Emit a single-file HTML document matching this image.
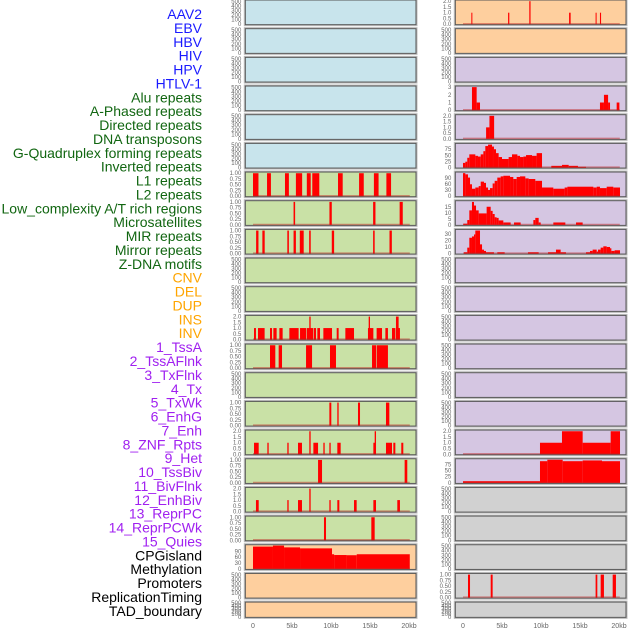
<!DOCTYPE html>
<html><head><meta charset="utf-8"><style>
html,body{margin:0;padding:0;background:#fff;width:630px;height:630px;overflow:hidden}
svg{display:block}
text{font-family:"Liberation Sans",sans-serif}
</style></head>
<body>
<svg id="chart" width="630" height="630" viewBox="0 0 630 630" xmlns="http://www.w3.org/2000/svg">
<g id="labels"></g>
<g id="panels"></g>
<g id="xaxes"></g>
</svg>
<script>
// ---------- data ----------
const trackLabels = ["AAV2","EBV","HBV","HIV","HPV","HTLV-1","Alu repeats","A-Phased repeats","Directed repeats","DNA transposons","G-Quadruplex forming repeats","Inverted repeats","L1 repeats","L2 repeats","Low_complexity A/T rich regions","Microsatellites","MIR repeats","Mirror repeats","Z-DNA motifs","CNV","DEL","DUP","INS","INV","1_TssA","2_TssAFlnk","3_TxFlnk","4_Tx","5_TxWk","6_EnhG","7_Enh","8_ZNF_Rpts","9_Het","10_TssBiv","11_BivFlnk","12_EnhBiv","13_ReprPC","14_ReprPCWk","15_Quies","CPGisland","Methylation","Promoters","ReplicationTiming","TAD_boundary"];
const labelGroups = ["v","v","v","v","v","v","r","r","r","r","r","r","r","r","r","r","r","r","r","s","s","s","s","s","c","c","c","c","c","c","c","c","c","c","c","c","c","c","c","k","k","k","k","k"];
const xTickValues = [0,5,10,15,20];
const xTickLabels = ["0","5kb","10kb","15kb","20kb"];
const ticksEmpty = [0,100,200,300,400,500];
const ticksOne = [0,0.25,0.5,0.75,1];
const ticksTwo = [0,0.5,1,1.5,2];
const ticksThree = [0,1,2,3];
const ticksG4 = [0,25,50,75];
const ticksL1 = [0,30,60,90];
const ticksL2 = [0,5,10,15];
const ticksLow = [0,10,20,30];

// intervals: [startKb, endKb, value]
const left6 = [[0,0.7,1],[1.8,2.3,1],[4.1,4.6,1],[5.5,6.3,1],[6.9,7.4,1],[7.6,8.5,1],[10.9,11.5,1],[13.6,14.2,1],[15.5,16.1,1],[17.1,17.7,1]];
const left7 = [[5.2,5.4,1],[9.8,10.1,1],[15.4,15.7,1],[18.8,19.2,1]];
const left8 = [[0.4,0.7,1],[1.2,1.5,1],[4.4,4.6,1],[5.2,5.5,1],[6.0,6.5,1],[7.2,7.4,1],[10.1,10.4,1],[15.4,15.6,1],[17.5,17.8,1]];
const left11 = [[0.13,0.38,1],[0.64,1.49,1],[2.18,2.44,1],[2.61,3.03,1],[3.38,3.8,1],[4.66,5.85,1],[6.03,6.8,1],[6.88,7.74,1],[7.22,7.39,2],[7.82,8.08,1],[8.25,8.59,1],[9.02,10.13,1],[10.73,10.98,1],[11.84,12.95,1],[14.74,15.43,1],[14.83,15.0,2],[15.85,16.54,1],[16.97,17.3,1],[17.82,18.25,1],[18.33,18.84,1],[18.33,18.67,2]];
const left12 = [[2.18,2.86,1],[3.29,3.72,1],[6.8,7.57,1],[9.87,10.64,1],[15.26,15.77,1],[15.85,17.3,1]];
const left14 = [[9.79,10.04,1],[10.81,10.98,1],[13.46,13.72,1],[17.05,17.48,1]];
const left15 = [[0.13,0.73,1],[1.84,2.01,1],[4.4,4.57,1],[5.77,6.28,1],[7.22,7.39,2],[7.74,8.34,1],[9.02,9.19,1],[9.79,9.96,1],[10.81,11.24,1],[15.43,15.77,1],[15.6,15.77,2],[17.05,17.82,1],[17.99,18.25,1],[19.01,19.27,1]];
const left16 = [[8.34,8.85,1],[19.44,19.78,1]];
const left17 = [[0.38,0.73,1],[4.4,4.57,1],[5.77,6.28,1],[7.22,7.39,2],[9.79,9.96,1],[10.81,11.07,1],[12.95,13.29,1],[15.43,15.77,1],[18.5,18.84,1]];
const left18 = [[9.1,9.36,1],[15.17,15.6,1]];
const left19 = [[0,2.56,114],[2.56,3.98,119],[3.98,6.03,110],[6.03,10.13,105],[10.13,10.4,75],[10.4,12.0,71],[12.0,13.3,70],[13.3,20.1,75]];

const right0 = [[1.07,1.2,1],[5.78,5.94,1],[8.5,8.66,2],[13.6,13.8,1],[17.0,17.1,1],[17.56,17.7,1]];
const right3 = [[1.15,1.75,3],[1.75,2.18,1],[17.56,18.07,1],[18.07,18.6,2],[18.6,18.85,1],[19.7,20.05,1]];
const right4 = [[2.96,3.39,1],[3.39,3.99,2]];
const right5 = [[0,0.3,19],[0.3,0.55,24],[0.55,0.81,40],[0.81,1.58,54],[1.58,1.92,48],[1.92,2.27,45],[2.27,2.61,54],[2.61,2.86,67],[2.86,3.21,88],[3.21,3.72,94],[3.72,3.97,86],[3.97,4.23,75],[4.23,4.57,59],[4.57,5.0,43],[5.0,5.85,35],[5.85,6.28,43],[6.28,6.97,54],[6.97,7.31,48],[7.31,7.74,43],[7.74,8.08,45],[8.08,8.85,51],[8.85,9.44,48],[9.44,10.13,59],[11.32,12.69,7],[12.69,13.55,11],[13.55,14.74,7],[14.74,15.77,3]];
const right6 = [[0,0.3,114],[0.3,0.64,108],[0.64,0.9,92],[0.9,1.15,59],[1.15,1.58,37],[1.58,2.01,43],[2.01,2.27,50],[2.27,2.69,72],[2.69,2.95,66],[2.95,3.21,43],[3.21,3.46,31],[3.46,3.8,40],[3.8,4.06,63],[4.06,4.4,76],[4.4,4.83,92],[4.83,5.17,98],[5.17,6.03,101],[6.03,6.45,95],[6.45,6.88,85],[6.88,7.31,95],[7.31,7.99,98],[7.99,8.42,88],[8.42,9.27,85],[9.27,10.13,76],[10.13,11.58,43],[11.58,13.03,37],[13.03,13.38,43],[13.38,16.71,47],[16.71,17.14,43],[17.14,17.56,47],[17.56,18.42,40],[18.42,19.27,47],[19.27,20.13,43]];
const right7 = [[0.04,0.55,1],[0.55,0.81,4],[0.81,1.15,12],[1.15,1.41,19],[1.41,1.67,16],[1.67,2.01,12],[2.01,3.03,9.5],[3.03,3.55,15],[3.55,3.8,11.6],[3.8,4.06,9],[4.06,4.31,6.3],[4.31,4.57,5.8],[4.57,5.17,3.7],[5.17,6.11,2],[6.54,7.39,2],[9.02,9.27,4],[9.27,9.7,5.8],[9.7,9.96,2],[11.58,13.12,2],[14.49,15.34,2]];
const right8 = [[0.13,0.55,2],[0.55,0.81,9],[0.81,1.15,24],[1.15,1.41,26],[1.41,1.58,29],[1.58,2.18,35],[2.18,2.44,14],[2.44,2.69,6],[2.69,2.95,4],[2.95,3.97,2],[4.4,5.34,2],[8.33,9.7,2],[10.9,11.92,2],[11.92,12.52,6],[12.52,13.2,2],[15.77,16.28,2],[16.28,16.62,4],[16.62,17.14,6],[17.14,17.31,3],[17.31,17.65,6],[17.65,17.99,9],[17.99,18.42,11],[18.42,18.85,10],[18.85,19.02,8],[19.02,19.44,4],[19.44,20.13,5]];
const right15 = [[9.87,12.69,1],[12.69,15.34,2],[15.34,18.93,1],[18.93,20.13,2]];
const right16 = [[0,9.87,7],[9.87,10.81,88],[10.81,12.78,94],[12.78,15.34,88],[15.34,17.82,91],[17.82,20.13,88]];
const right20 = [[0.64,0.9,1],[3.55,3.8,1],[17.0,17.22,1],[17.65,18.07,1],[19.19,19.61,1]];

const leftTracks = {6:[left6,ticksOne,1.03,2],7:[left7,ticksOne,1.03,2],8:[left8,ticksOne,1.03,2],11:[left11,ticksTwo,2.06,1],12:[left12,ticksOne,1.03,2],14:[left14,ticksOne,1.03,2],15:[left15,ticksTwo,2.06,1],16:[left16,ticksOne,1.03,2],17:[left17,ticksTwo,2.06,1],18:[left18,ticksOne,1.03,2],19:[left19,ticksL1,121,0]};
const rightTracks = {0:[right0,ticksTwo,2.06,1],3:[right3,ticksThree,3.08,0],4:[right4,ticksTwo,2.06,1],5:[right5,ticksG4,97,0],6:[right6,ticksL1,117,0],7:[right7,ticksL2,19.6,0],8:[right8,ticksLow,36,0],15:[right15,ticksTwo,2.06,1],16:[right16,ticksG4,96,0],20:[right20,ticksOne,1.03,2]};

// ---------- layout ----------
const NS = "http://www.w3.org/2000/svg";
const colors = {b:"#c8e4ec",g:"#c9e1a6",o:"#fecf9e",p:"#d5c6e2",y:"#d1d1d1"};
const leftBg = ["b","b","b","b","b","b","g","g","g","g","g","g","g","g","g","g","g","g","g","o","o","o"];
const rightBg = ["o","o","p","p","p","p","p","p","p","p","p","p","p","p","p","p","p","y","y","y","y","y"];
const labelColors = {v:"#1a1aff",r:"#116611",s:"#ffa500",c:"#a020f0",k:"#000000"};
const ROW = 28.67, PH = 24.7;
const cols = [{x0:245.3,x1:416,z:253},{x0:455.3,x1:626,z:463}];
const KB = 7.8;

function el(tag, attrs, parent){const e=document.createElementNS(NS,tag);for(const k in attrs)e.setAttribute(k,attrs[k]);parent.appendChild(e);return e;}

const lg = document.getElementById("labels");
trackLabels.forEach((t,i)=>{
  const tx = el("text",{x:202,y:14+i*13.88+5,"text-anchor":"end","font-size":"14",fill:labelColors[labelGroups[i]]},lg);
  tx.textContent = t;
  
  
});

const pg = document.getElementById("panels");
function drawPanel(ci, r, bg, track){
  const c = cols[ci];
  const top = r*ROW;
  const h = r===21 ? 15.3 : PH;
  const bottom = top+h;
  const g = el("g",{},pg);
  
  
  el("rect",{x:c.x0-1,y:top-1,width:c.x1-c.x0+2,height:h+2,fill:"none",stroke:"#bbb","stroke-width":1},g);
  el("rect",{x:c.x0,y:top,width:c.x1-c.x0,height:h,fill:colors[bg],stroke:"#555","stroke-width":1},g);
  const xs = kb=>c.z+kb*KB;
  const ticks = track ? track[1] : ticksEmpty;
  const ymax = track ? track[2] : 520;
  const dec = track ? track[3] : 0;
  const ys = v=>bottom-0.5-(v/ymax)*(h-1);
  ticks.forEach(v=>{
    const t = el("text",{x:c.x0-4,y:ys(v)+2,"text-anchor":"end","font-size":"6",fill:"#666"},g);
    t.textContent = v.toFixed(dec);
    
    
  });
  if(track){
    track[0].forEach(d=>{
      const b = el("rect",{x:xs(d[0]),y:ys(d[2]),width:Math.max(1,xs(d[1])-xs(d[0])),height:ys(0)-ys(d[2]),fill:"#ff0000"},g);
      
      
    });
    el("line",{x1:xs(0),x2:xs(20.1),y1:bottom-1,y2:bottom-1,stroke:"rgba(190,30,30,0.45)","stroke-width":1.4},g);
  }
}
for(let r=0;r<22;r++){
  drawPanel(0,r,leftBg[r],leftTracks[r]);
  drawPanel(1,r,rightBg[r],rightTracks[r]);
}
const xg = document.getElementById("xaxes");
cols.forEach(c=>{
  xTickValues.forEach((v,i)=>{
    const t = el("text",{x:c.z+v*KB,y:628,"text-anchor":"middle","font-size":"7",fill:"#666"},xg);
    t.textContent = xTickLabels[i];
    
    
  });
});
</script>
</body></html>
